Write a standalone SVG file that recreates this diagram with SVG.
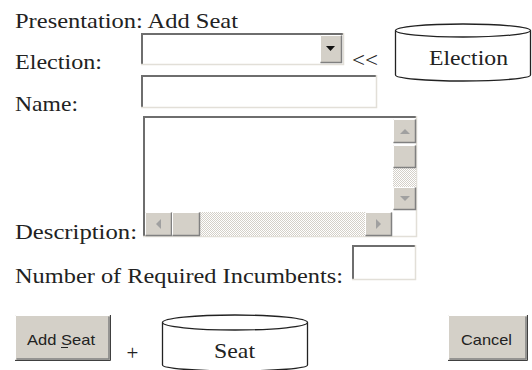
<svg xmlns="http://www.w3.org/2000/svg" width="532" height="370" viewBox="0 0 532 370">
<style>
.lbl{font-family:"Liberation Serif","Times New Roman",serif;font-size:21px;fill:#222}
.btxt{font-family:"Liberation Sans",Arial,sans-serif;font-size:15px;fill:#222}
.cyl{fill:#fff;stroke:#222;stroke-width:1.3}
.field{fill:#fff}
.dk{stroke:#6e6e6e;stroke-width:2;fill:none}
.lt{stroke:#e2dfd8;stroke-width:1.5;fill:none}
.btn{fill:#d4d0c8}
.hi{stroke:#fff;stroke-width:1;fill:none}
.sh{stroke:#808080;stroke-width:1.5;fill:none}
.sh2{stroke:#404040;stroke-width:1;fill:none}
.arr{fill:#a0a0a0}
</style>
<defs>
<pattern id="dots" width="2" height="2" patternUnits="userSpaceOnUse">
<rect width="2" height="2" fill="#fff"/>
<rect width="1" height="1" fill="#d4d0c8"/>
<rect x="1" y="1" width="1" height="1" fill="#d4d0c8"/>
</pattern>
</defs>

<g id="title"><text class="lbl" x="15" y="28" textLength="223" lengthAdjust="spacingAndGlyphs">Presentation: Add Seat</text></g>

<g id="election-label"><text class="lbl" x="15" y="69" textLength="87" lengthAdjust="spacingAndGlyphs">Election:</text></g>
<g id="election-dropdown">
<rect class="field" x="141" y="33" width="203" height="32"/>
<path class="dk" d="M142 65V34H343"/>
<path class="lt" d="M141 64.5H343.5V33"/>
<rect class="btn" x="320" y="35" width="22" height="28"/>
<path class="hi" d="M320.5 62.5V35.5H341.5"/>
<path class="sh" d="M320.5 62.5H341.5V35.5"/>
<path d="M326 46H335L330.5 51Z" fill="#111"/>
</g>
<g id="link"><text class="lbl" x="352" y="67" font-size="20" textLength="26" lengthAdjust="spacingAndGlyphs">&lt;&lt;</text></g>
<g id="election-store">
<path class="cyl" d="M395.5 30.5V75A67.5 6 0 0 0 530.5 75V30.5"/>
<ellipse class="cyl" cx="463" cy="30.5" rx="67.5" ry="6.5"/>
<text class="lbl" x="468.5" y="65" text-anchor="middle" textLength="79" lengthAdjust="spacingAndGlyphs">Election</text>
</g>

<g id="name-label"><text class="lbl" x="15" y="111" textLength="63" lengthAdjust="spacingAndGlyphs">Name:</text></g>
<g id="name-field">
<rect class="field" x="141" y="75" width="236" height="33"/>
<path class="dk" d="M142 108V76H376"/>
<path class="lt" d="M141 107.5H376.5V75"/>
</g>

<g id="description-label"><text class="lbl" x="15" y="239" textLength="122" lengthAdjust="spacingAndGlyphs">Description:</text></g>
<g id="description-field">
<rect class="field" x="143" y="116" width="274" height="121"/>
<path class="dk" d="M144 237V117H416"/>
<path class="lt" d="M143 236.5H416.5V116"/>
<rect x="393" y="168" width="23" height="19" fill="url(#dots)"/>
<rect x="172" y="212" width="193" height="24" fill="url(#dots)"/>
<g>
<rect class="btn" x="393" y="119" width="23" height="24"/>
<path class="hi" d="M393.5 142.5V119.5H415.5"/>
<path class="sh" d="M393.5 142.5H415.5V119.5"/>
<path class="arr" d="M400 134H410L405 129Z"/>
</g>
<g>
<rect class="btn" x="393" y="145" width="23" height="23"/>
<path class="hi" d="M393.5 167.5V145.5H415.5"/>
<path class="sh" d="M393.5 167.5H415.5V145.5"/>
</g>
<g>
<rect class="btn" x="393" y="187" width="23" height="23"/>
<path class="hi" d="M393.5 209.5V187.5H415.5"/>
<path class="sh" d="M393.5 209.5H415.5V187.5"/>
<path class="arr" d="M400 196H410L405 201Z"/>
</g>
<g>
<rect class="btn" x="145" y="212" width="27" height="24"/>
<path class="hi" d="M145.5 235.5V212.5H171.5"/>
<path class="sh" d="M145.5 235.5H171.5V212.5"/>
<path class="arr" d="M161 219V229L156 224Z"/>
</g>
<g>
<rect class="btn" x="172" y="212" width="28" height="24"/>
<path class="hi" d="M172.5 235.5V212.5H199.5"/>
<path class="sh" d="M172.5 235.5H199.5V212.5"/>
</g>
<g>
<rect class="btn" x="365" y="212" width="27" height="24"/>
<path class="hi" d="M365.5 235.5V212.5H391.5"/>
<path class="sh" d="M365.5 235.5H391.5V212.5"/>
<path class="arr" d="M376 219V229L381 224Z"/>
</g>
</g>

<g id="incumbents-label"><text class="lbl" x="15" y="283" textLength="328" lengthAdjust="spacingAndGlyphs">Number of Required Incumbents:</text></g>
<g id="incumbents-field">
<rect class="field" x="352" y="245" width="64" height="35"/>
<path class="dk" d="M353 280V246H415"/>
<path class="lt" d="M352 279.5H415.5V245"/>
</g>

<g id="add-seat-button">
<rect class="btn" x="15" y="315" width="95" height="45"/>
<path class="hi" d="M15.5 359.5V315.5H109.5"/>
<path class="sh2" d="M15 360.5H110.5V315"/>
<path class="sh" d="M16.5 359H109V316.5"/>
<text class="btxt" x="27" y="345" textLength="68" lengthAdjust="spacingAndGlyphs">Add Seat</text>
<line x1="61" y1="347.5" x2="68" y2="347.5" stroke="#222" stroke-width="1"/>
</g>

<g id="plus"><text class="lbl" x="132.5" y="360" font-size="20" text-anchor="middle" fill="#444">+</text></g>

<g id="seat-store">
<path class="cyl" d="M162.5 322.5V365A72.5 6 0 0 0 307.5 365V322.5"/>
<ellipse class="cyl" cx="235" cy="322.5" rx="72.5" ry="7.5"/>
<text class="lbl" x="234.5" y="358" text-anchor="middle" textLength="41" lengthAdjust="spacingAndGlyphs">Seat</text>
</g>

<g id="cancel-button">
<rect class="btn" x="448" y="315" width="79" height="45"/>
<path class="hi" d="M448.5 359.5V315.5H526.5"/>
<path class="sh2" d="M448 360.5H527.5V315"/>
<path class="sh" d="M449.5 359H526V316.5"/>
<text class="btxt" x="461" y="345" textLength="51" lengthAdjust="spacingAndGlyphs">Cancel</text>
</g>
</svg>
